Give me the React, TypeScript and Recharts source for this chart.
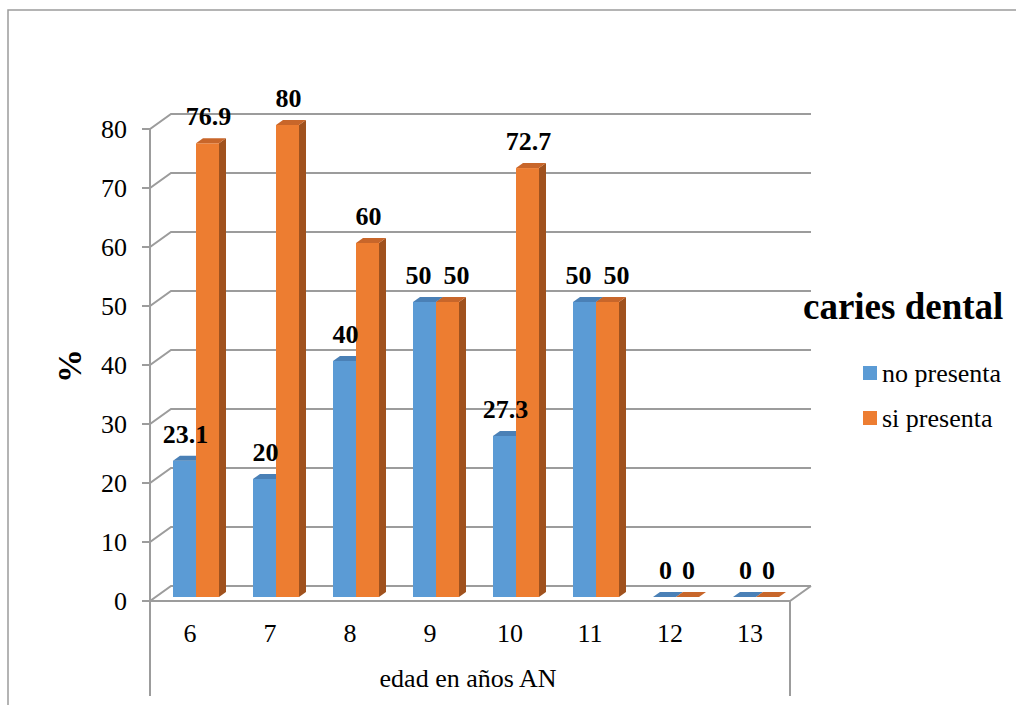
import { BarChart, Bar, XAxis, YAxis, CartesianGrid, LabelList, Customized } from 'recharts';

const AGES = ['6', '7', '8', '9', '10', '11', '12', '13'];
const NO_PRESENTA = [23.1, 20, 40, 50, 27.3, 50, 0, 0];
const SI_PRESENTA = [76.9, 80, 60, 50, 72.7, 50, 0, 0];
const Y_TICKS = [0, 10, 20, 30, 40, 50, 60, 70, 80];
const SERIES_NAMES = ['no presenta', 'si presenta'];

const data = AGES.map((edad, i) => ({
  edad,
  noPresenta: NO_PRESENTA[i],
  siPresenta: SI_PRESENTA[i],
}));

const FONT = '"Liberation Serif", "Times New Roman", serif';
const GRID = '#9c9c9c';

// plot area = plane of the bar fronts
const LEFT = 156;
const RIGHT = 796;
const TOP = 125;
const BOTTOM = 597;
// front plane offset from bar plane, back wall offset
const FX = -6, FY = 4;
const BX = 15, BY = -11;
// bar depth
const DX = 7, DY = 5;

const BLUE = { front: '#5b9bd5', top: '#4a80b6', side: '#41719c' };
const ORANGE = { front: '#ed7d31', top: '#c8662a', side: '#a0521e' };

function Bar3D(props: any) {
  const { x, y, width, height, colors } = props;
  const w = width, h = Math.max(height, 0);
  return (
    <g>
      {h > 0 && <rect x={x} y={y} width={w} height={h} fill={colors.front} />}
      {h > 0 && (
        <path d={`M${x + w},${y} L${x + w + DX},${y - DY} L${x + w + DX},${y + h - DY} L${x + w},${y + h} Z`} fill={colors.side} />
      )}
      <path d={`M${x},${y} L${x + w},${y} L${x + w + DX},${y - DY} L${x + DX},${y - DY} Z`} fill={colors.top} />
    </g>
  );
}

// labels of equal, non-zero pairs get pushed apart like Excel does
function makeLabel(series: 0 | 1) {
  return function ValueLabel(props: any) {
    const { x, y, width, value, index } = props;
    const a = NO_PRESENTA[index], b = SI_PRESENTA[index];
    let shift = 1;
    if (a > 0 && Math.abs(a - b) < 3) shift = series === 0 ? -6 : 9;
    return (
      <text x={x + width / 2 + shift} y={y - 18} textAnchor="middle" fontFamily={FONT} fontWeight="bold" fontSize={26} fill="#000">
        {value}
      </text>
    );
  };
}

function GridLine(props: any) {
  const { y1 } = props;
  const yf = y1 + FY;
  const xf = LEFT + FX;
  const isFloor = Math.abs(y1 - BOTTOM) < 1;
  return (
    <g key={props.key} fill="none" stroke={GRID} strokeWidth={2}>
      <path d={`M${xf - 8},${yf} L${xf},${yf} L${LEFT + BX},${y1 + BY} L${RIGHT + BX},${y1 + BY}`} />
      {isFloor && (
        <path d={`M${xf},${yf} L${RIGHT + FX},${yf} L${RIGHT + BX},${y1 + BY}`} />
      )}
    </g>
  );
}

function XTick(props: any) {
  const { x, payload } = props;
  return (
    <text x={x + FX} y={BOTTOM + FY + 41} textAnchor="middle" fontFamily={FONT} fontSize={26} fill="#000">
      {payload.value}
    </text>
  );
}

function YTick(props: any) {
  const { y, payload } = props;
  return (
    <text x={127} y={y + FY + 9} textAnchor="end" fontFamily={FONT} fontSize={26} fill="#000">
      {payload.value}
    </text>
  );
}

function Decor() {
  const xf = LEFT + FX;
  return (
    <g>
      <rect x={8} y={10} width={1100} height={800} fill="none" stroke={GRID} strokeWidth={1.5} />
      <line x1={xf} y1={TOP + FY} x2={xf} y2={696} stroke={GRID} strokeWidth={2} />
      <line x1={RIGHT + FX} y1={BOTTOM + FY} x2={RIGHT + FX} y2={696} stroke={GRID} strokeWidth={2} />
      <text x={468} y={687} textAnchor="middle" fontFamily={FONT} fontSize={26} fill="#000">
        edad en años AN
      </text>
      <text
        x={0}
        y={0}
        transform="translate(81,366) rotate(-90)"
        textAnchor="middle"
        fontFamily={FONT}
        fontWeight="bold"
        fontSize={34}
        fill="#000"
      >
        %
      </text>
      <text x={803} y={319} fontFamily={FONT} fontWeight="bold" fontSize={37} fill="#000">
        caries dental
      </text>
      {SERIES_NAMES.map((name, i) => (
        <g key={name}>
          <rect x={863} y={366 + i * 45} width={14} height={14} fill={i === 0 ? BLUE.front : ORANGE.front} />
          <text x={882} y={382 + i * 45} fontFamily={FONT} fontSize={26} fill="#000">
            {name}
          </text>
        </g>
      ))}
    </g>
  );
}

export default function App() {
  return (
    <div style={{ position: 'absolute', left: 0, top: 0, width: 1016, height: 705, background: '#fff' }}>
      <BarChart
        width={1016}
        height={705}
        data={data}
        margin={{ top: TOP, right: 1016 - RIGHT, bottom: 705 - BOTTOM - 40, left: LEFT - 60 }}
        barCategoryGap="21.25%"
        barGap={0}
      >
        <CartesianGrid horizontal={GridLine} vertical={false} />
        <XAxis dataKey="edad" height={40} tickLine={false} axisLine={false} tick={XTick} interval={0} />
        <YAxis width={60} domain={[0, 80]} ticks={Y_TICKS} tickLine={false} axisLine={false} tick={YTick} interval={0} />
        <Customized component={Decor} />
        <Bar dataKey="noPresenta" name="no presenta" isAnimationActive={false} shape={(p: any) => <Bar3D {...p} colors={BLUE} />}>
          <LabelList dataKey="noPresenta" content={makeLabel(0)} />
        </Bar>
        <Bar dataKey="siPresenta" name="si presenta" isAnimationActive={false} shape={(p: any) => <Bar3D {...p} colors={ORANGE} />}>
          <LabelList dataKey="siPresenta" content={makeLabel(1)} />
        </Bar>
      </BarChart>
    </div>
  );
}
